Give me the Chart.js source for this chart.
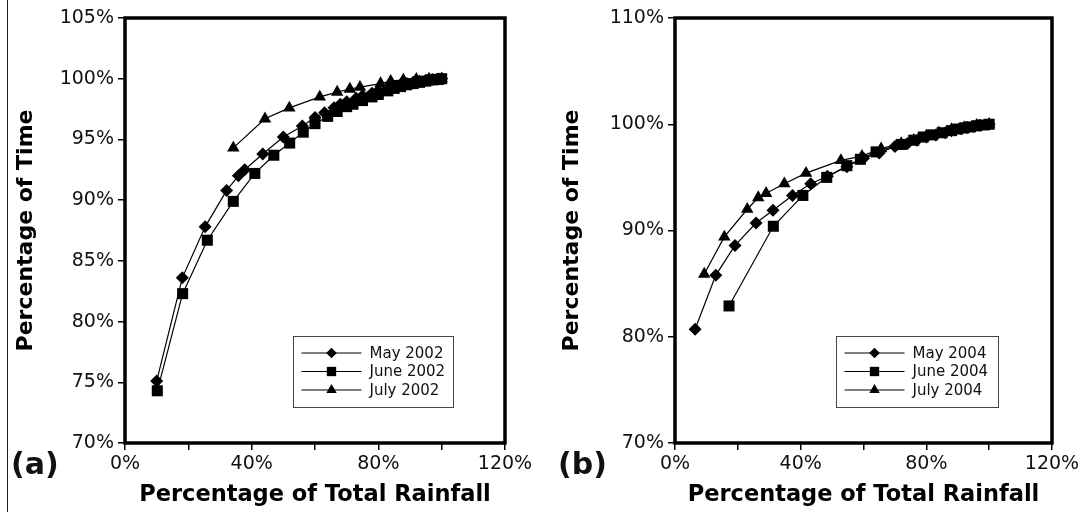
<!DOCTYPE html>
<html>
<head>
<meta charset="utf-8">
<script src="https://cdn.jsdelivr.net/npm/chart.js@4/dist/chart.umd.min.js"></script>
<style>
  html, body { margin: 0; padding: 0; background: #fff; }
  #wrap { position: relative; width: 1092px; height: 512px; overflow: hidden; }
  .panel { position: absolute; top: 0; width: 546px; height: 512px; }
  #pa { left: 0; }
  #pb { left: 546px; }
  .tag { position: absolute; top: 446px; font: bold 30px "DejaVu Sans", sans-serif; color: #111; }
  #tagA { left: 11px; }
  #tagB { left: 558px; }
  #edge { position: absolute; left: 7px; top: 0; width: 1px; height: 512px; background: #222; }
</style>
</head>
<body>
<div id="wrap">
  <div id="edge"></div>
  <div class="panel" id="pa"><canvas id="chartA" width="546" height="512"></canvas></div>
  <div class="panel" id="pb"><canvas id="chartB" width="546" height="512"></canvas></div>
  <div class="tag" id="tagA">(a)</div>
  <div class="tag" id="tagB">(b)</div>
</div>
<script>
// ---- Panel (a): 2002 ----
const may2002X  = [10.0, 18.1, 25.3, 32.1, 35.8, 37.8, 43.5, 50.0, 56.0, 60.0, 63.0, 66.0, 68.0, 70.0, 73.0, 75.0, 78.0, 80.0, 83.0, 85.0, 87.0, 89.0, 91.0, 93.0, 95.0, 97.0, 99.0, 100.0];
const may2002Y  = [75.1, 83.6, 87.8, 90.8, 92.0, 92.5, 93.8, 95.2, 96.1, 96.8, 97.2, 97.6, 97.9, 98.1, 98.4, 98.6, 98.8, 99.0, 99.2, 99.35, 99.5, 99.6, 99.7, 99.8, 99.87, 99.93, 99.97, 100.0];
const june2002X = [10.2, 18.2, 26.0, 34.2, 41.0, 47.0, 52.0, 56.3, 60.0, 64.0, 67.0, 70.0, 72.0, 75.0, 78.0, 80.0, 83.0, 85.0, 87.0, 89.0, 91.0, 93.0, 95.0, 97.0, 99.0, 100.0];
const june2002Y = [74.3, 82.3, 86.7, 89.9, 92.2, 93.7, 94.7, 95.6, 96.3, 96.9, 97.3, 97.7, 97.9, 98.2, 98.5, 98.7, 99.0, 99.2, 99.35, 99.5, 99.6, 99.7, 99.8, 99.9, 99.95, 100.0];
const july2002X = [34.2, 44.2, 51.9, 61.5, 67.0, 71.0, 74.2, 80.7, 83.9, 87.9, 92.0, 96.0, 100.0];
const july2002Y = [94.3, 96.7, 97.6, 98.5, 98.9, 99.15, 99.3, 99.6, 99.8, 99.9, 99.95, 99.98, 100.0];

// ---- Panel (b): 2004 ----
const may2004X  = [6.4, 13.0, 19.1, 25.8, 31.2, 37.4, 43.2, 48.5, 54.7, 60.0, 65.0, 70.0, 74.0, 77.0, 80.0, 83.0, 86.0, 88.0, 91.0, 93.0, 95.0, 97.0, 100.0];
const may2004Y  = [80.7, 85.8, 88.6, 90.7, 91.9, 93.3, 94.4, 95.1, 96.0, 96.8, 97.3, 97.9, 98.2, 98.5, 98.8, 99.0, 99.2, 99.4, 99.6, 99.7, 99.8, 99.9, 100.0];
const june2004X = [17.2, 31.3, 40.7, 48.3, 54.7, 59.0, 64.0, 72.0, 76.0, 79.0, 82.0, 85.0, 88.0, 90.0, 92.0, 94.0, 96.0, 98.0, 100.0];
const june2004Y = [82.9, 90.4, 93.3, 95.0, 96.1, 96.7, 97.4, 98.1, 98.5, 98.8, 99.0, 99.2, 99.4, 99.55, 99.65, 99.75, 99.85, 99.93, 100.0];
const july2004X = [9.3, 15.7, 23.0, 26.5, 29.0, 34.8, 41.7, 52.8, 59.5, 65.6, 72.0, 76.0, 80.0, 84.0, 88.0, 92.0, 96.0, 100.0];
const july2004Y = [85.9, 89.4, 92.0, 93.1, 93.5, 94.4, 95.4, 96.6, 97.0, 97.7, 98.2, 98.5, 98.9, 99.2, 99.5, 99.7, 99.9, 100.0];

const xTickStep = 20;      // tick marks every 20 %, labels every 40 %
const xLabelEvery = 40;

const FONT = '"DejaVu Sans", sans-serif';
const INK = '#111';

function pts(xs, ys) { return xs.map((x, i) => ({ x: x, y: ys[i] })); }

function series(label, xs, ys, style, radius) {
  return {
    label: label,
    data: pts(xs, ys),
    showLine: true,
    tension: 0,
    borderColor: '#000',
    borderWidth: 1.2,
    backgroundColor: '#000',
    pointStyle: style,
    pointRadius: radius,
    pointHoverRadius: radius,
    pointBackgroundColor: '#000',
    pointBorderColor: '#000',
    pointBorderWidth: 0
  };
}

// Thick frame around the plot area plus a boxed legend in the lower right
const framePlugin = {
  id: 'frameAndKey',
  afterDraw(chart, args, opts) {
    const ctx = chart.ctx;
    const a = chart.chartArea;
    ctx.save();
    ctx.strokeStyle = '#000';
    ctx.lineWidth = 3.5;
    ctx.strokeRect(a.left, a.top, a.right - a.left, a.bottom - a.top);

    // legend box
    const bw = opts.boxWidth, bh = 71;
    const bx = Math.round(a.right - opts.rightGap - bw) + 0.5;
    const by = Math.round(a.bottom - 36 - bh) + 0.5;
    ctx.fillStyle = '#fff';
    ctx.fillRect(bx, by, bw, bh);
    ctx.strokeStyle = '#444';
    ctx.lineWidth = 1;
    ctx.strokeRect(bx, by, bw, bh);

    chart.data.datasets.forEach((ds, i) => {
      const cy = by + 16.5 + i * 18.5;
      ctx.strokeStyle = '#000';
      ctx.lineWidth = 1.2;
      ctx.beginPath();
      ctx.moveTo(bx + 8, cy);
      ctx.lineTo(bx + 68, cy);
      ctx.stroke();
      ctx.fillStyle = '#000';
      Chart.helpers.drawPoint(ctx, {
        pointStyle: ds.pointStyle,
        radius: ds.pointRadius - 1.2,
        rotation: 0,
        borderWidth: 0
      }, bx + 38, cy);
      ctx.fillStyle = INK;
      ctx.font = '15px ' + FONT;
      ctx.textBaseline = 'middle';
      ctx.textAlign = 'left';
      ctx.fillText(ds.label, bx + 76, cy + 1);
    });
    ctx.restore();
  }
};

function makeChart(id, datasets, yMin, yMax, yStep, yAxisWidth, rightPad, legendRightGap, legendWidth) {
  return new Chart(document.getElementById(id), {
    type: 'scatter',
    data: { datasets: datasets },
    plugins: [framePlugin],
    options: {
      responsive: false,
      animation: false,
      events: [],
      layout: { padding: { left: 0, right: rightPad, top: 18, bottom: 0 } },
      plugins: {
        legend: { display: false },
        tooltip: { enabled: false },
        frameAndKey: { rightGap: legendRightGap, boxWidth: legendWidth }
      },
      scales: {
        x: {
          type: 'linear',
          min: 0, max: 120,
          border: { display: false },
          grid: { drawOnChartArea: false, drawTicks: true, tickLength: 7, color: '#000', lineWidth: 1.5 },
          ticks: {
            stepSize: xTickStep,
            autoSkip: false,
            maxRotation: 0,
            padding: 3,
            color: INK,
            font: { family: FONT, size: 19 },
            callback: (v) => (v % xLabelEvery === 0 ? v + '%' : '')
          },
          title: {
            display: true,
            text: 'Percentage of Total Rainfall',
            color: '#000',
            font: { family: FONT, size: 22.5, weight: 'bold' },
            padding: { top: 0, bottom: 3 }
          },
          afterFit: (s) => { s.height = 69; }
        },
        y: {
          type: 'linear',
          min: yMin, max: yMax,
          border: { display: false },
          grid: { drawOnChartArea: false, drawTicks: true, tickLength: 7, color: '#000', lineWidth: 1.5 },
          ticks: {
            stepSize: yStep,
            autoSkip: false,
            padding: 4,
            color: INK,
            font: { family: FONT, size: 19 },
            callback: (v) => v + '%'
          },
          title: {
            display: true,
            text: 'Percentage of Time',
            color: '#000',
            font: { family: FONT, size: 22, weight: 'bold' },
            padding: { top: 13, bottom: 0 }
          },
          afterFit: (s) => { s.width = yAxisWidth; }
        }
      }
    }
  });
}

makeChart('chartA', [
  series('May 2002', may2002X, may2002Y, 'rectRot', 6.5),
  series('June 2002', june2002X, june2002Y, 'rect', 7.8),
  series('July 2002', july2002X, july2002Y, 'triangle', 7.2)
], 70, 105, 5, 125, 41, 52, 160);

makeChart('chartB', [
  series('May 2004', may2004X, may2004Y, 'rectRot', 6.5),
  series('June 2004', june2004X, june2004Y, 'rect', 7.8),
  series('July 2004', july2004X, july2004Y, 'triangle', 7.2)
], 70, 110, 10, 129, 40, 54, 162);
</script>
</body>
</html>
